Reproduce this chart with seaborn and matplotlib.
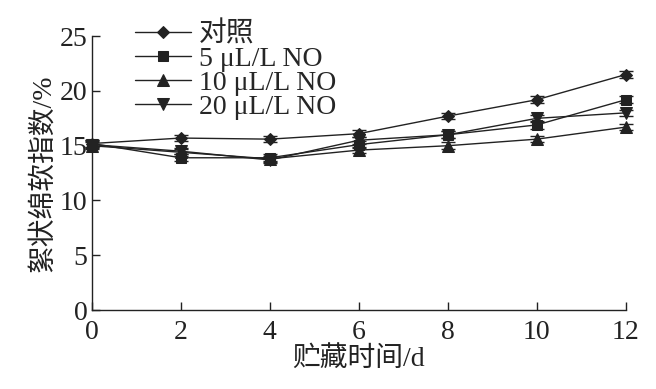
import pandas as pd
import numpy as np
import seaborn as sns
import matplotlib.pyplot as plt

# storage days
days = [0, 2, 4, 6, 8, 10, 12]

# treatment labels
labels = ["对照", "5 μL/L NO", "10 μL/L NO", "20 μL/L NO"]

# flocculent softening index (%)
control = [15.2, 15.7, 15.6, 16.1, 17.7, 19.2, 21.5]
no_5 = [15.2, 13.9, 13.9, 15.1, 16.0, 16.9, 19.2]
no_10 = [15.0, 14.4, 13.8, 14.6, 15.0, 15.6, 16.7]
no_20 = [15.1, 14.5, 13.7, 15.5, 16.0, 17.5, 18.0]

# error bars
err_control = [0.3, 0.25, 0.3, 0.3, 0.3, 0.3, 0.35]
err_5 = [0.3, 0.3, 0.3, 0.3, 0.3, 0.35, 0.3]
err_10 = [0.3, 0.3, 0.3, 0.3, 0.3, 0.3, 0.3]
err_20 = [0.3, 0.3, 0.3, 0.3, 0.3, 0.3, 0.3]

series = [control, no_5, no_10, no_20]
errors = [err_control, err_5, err_10, err_20]
markers = ["D", "s", "^", "v"]
msizes = [6, 7, 8, 8]

df = pd.DataFrame({
    "day": days * 4,
    "value": control + no_5 + no_10 + no_20,
    "group": [g for g in labels for _ in days],
})

sns.set_style("ticks")
plt.rcParams["font.family"] = ["Liberation Serif", "Noto Sans CJK SC"]

fig = plt.figure(figsize=(6.56, 3.89), dpi=100)
ax = fig.add_axes([0.140, 0.203, 0.814, 0.704])

sns.lineplot(data=df, x="day", y="value", hue="group", style="group",
             palette=["#222222"] * 4, markers=dict(zip(labels, markers)),
             dashes=False, linewidth=1.0, markersize=7, ax=ax,
             markeredgecolor="#222222", clip_on=False, zorder=3)

# resize markers per series
for line, ms in zip(ax.lines[:4], msizes):
    line.set_markersize(ms)

for vals, err in zip(series, errors):
    ax.errorbar(days, vals, yerr=err, fmt="none", ecolor="#222222",
                elinewidth=1.0, capsize=5, capthick=1.0, clip_on=False, zorder=2)

ax.set_xlim(0, 12)
ax.set_ylim(0, 25)
ax.set_xticks(days)
ax.set_yticks([0, 5, 10, 15, 20, 25])
ax.tick_params(direction="in", length=6, width=1.0, labelsize=20, colors="#222222")
ax.tick_params(axis="x", pad=7)
ax.tick_params(axis="y", pad=3)
for s in ["left", "bottom"]:
    ax.spines[s].set_linewidth(1.0)
    ax.spines[s].set_color("#222222")
sns.despine(ax=ax)

ax.set_xlabel("贮藏时间/d", fontsize=20, color="#222222", labelpad=1)
ax.set_ylabel("絮状绵软指数/%", fontsize=20, color="#222222", labelpad=3)

h, l = ax.get_legend_handles_labels()
for hh, ms in zip(h, msizes):
    hh.set_markersize(ms)
ax.legend(h, l, loc="upper left", bbox_to_anchor=(0.06, 1.095), frameon=False,
          fontsize=20, handlelength=2.0, handletextpad=0.3, labelspacing=-0.05,
          borderaxespad=0.0)

fig.savefig("out.png", dpi=100)
